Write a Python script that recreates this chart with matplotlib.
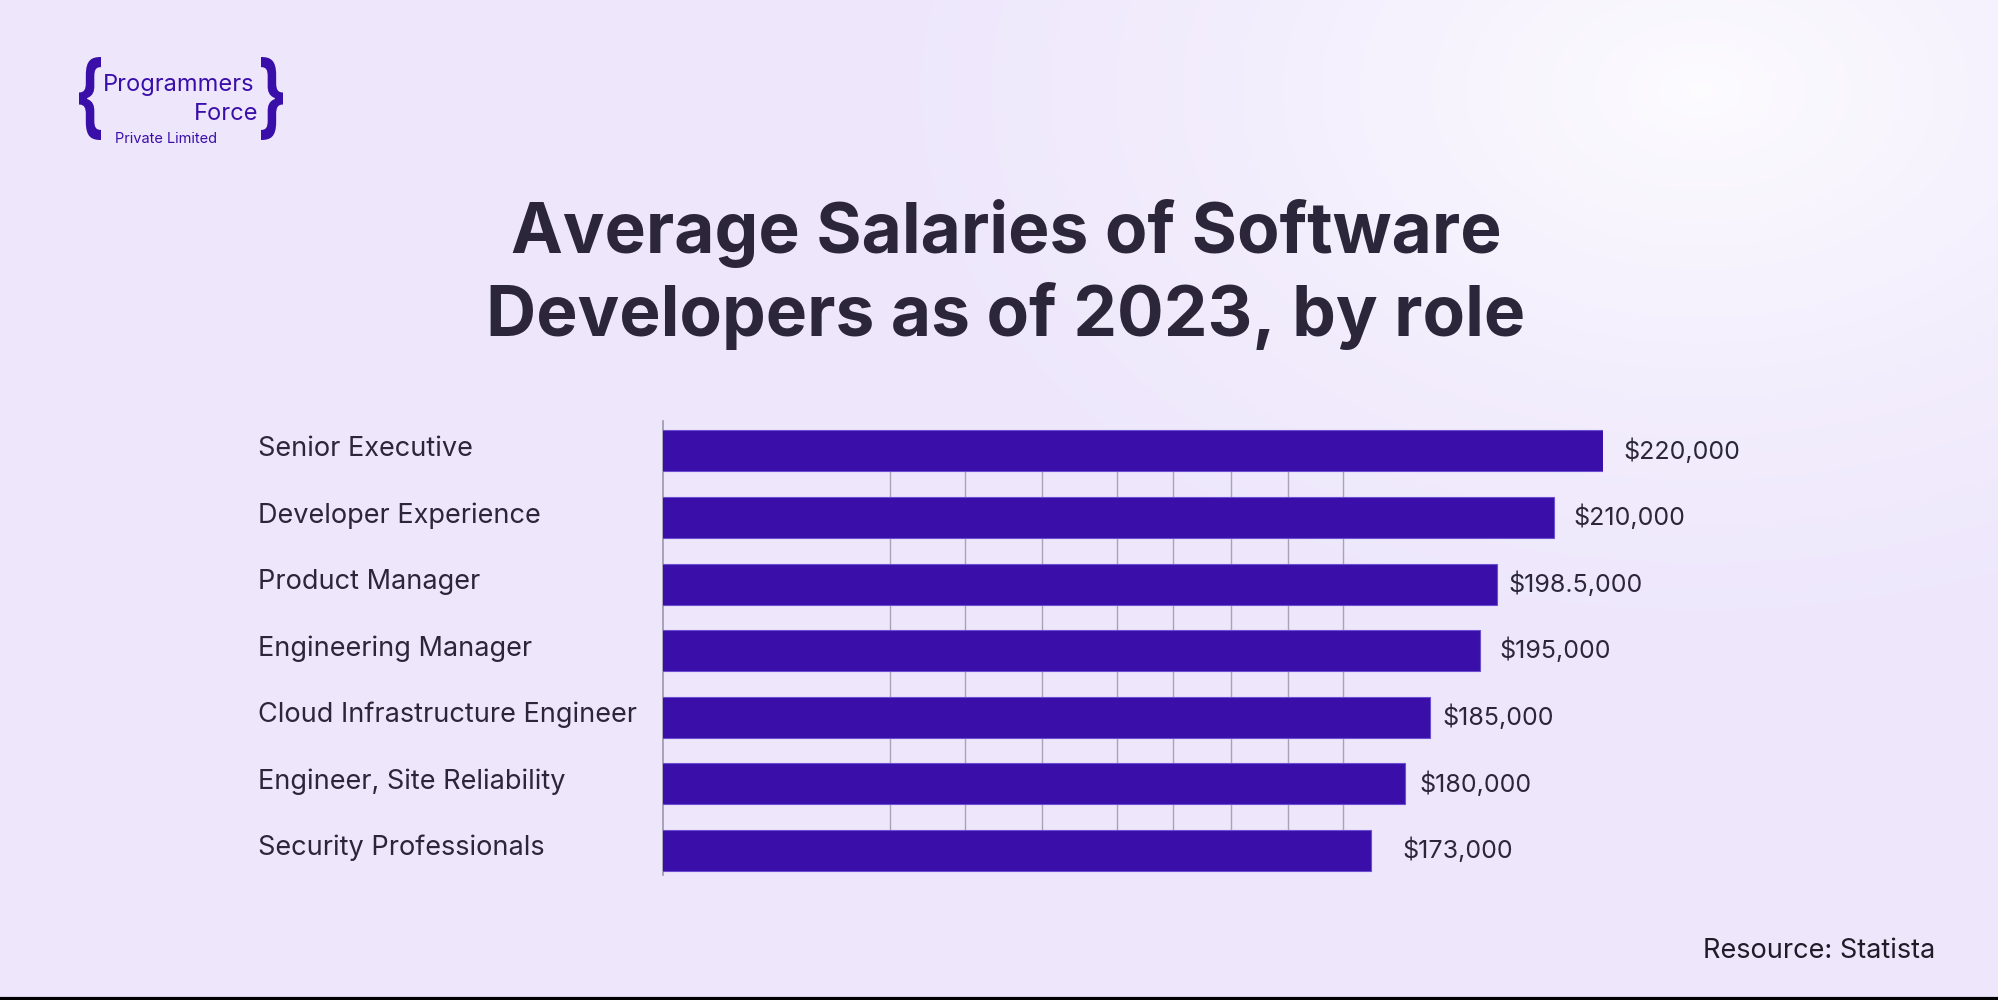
import matplotlib.pyplot as plt
import numpy as np
from matplotlib.textpath import TextPath
from matplotlib.patches import PathPatch
from matplotlib.font_manager import FontProperties
from matplotlib.transforms import Affine2D

roles = ["Senior Executive", "Developer Experience", "Product Manager",
         "Engineering Manager", "Cloud Infrastructure Engineer",
         "Engineer, Site Reliability", "Security Professionals"]
salaries = [220000, 210000, 198500, 195000, 185000, 180000, 173000]
value_labels = ["$220,000", "$210,000", "$198.5,000", "$195,000",
                "$185,000", "$180,000", "$173,000"]
grid_ticks = [75700, 90900, 106400, 121600, 133000, 144600, 156200, 167300]

font = "Inter"
dark = "#2b2639"
purple = "#3a0ea9"

fig = plt.figure(figsize=(19.99, 10), dpi=100)

# background with a soft glow in the upper right
bg = fig.add_axes([0, 0, 1, 1])
yy, xx = np.mgrid[0:1000, 0:1999]
d = np.sqrt(((xx - 1700) / 900.0) ** 2 + ((yy - 90) / 600.0) ** 2)
glow = np.clip(1 - d, 0, 1) ** 1.5
base = np.array([238, 231, 252]) / 255.0
img = base[None, None, :] + glow[:, :, None] * (1 - base[None, None, :]) * 0.85
bg.imshow(img, extent=[0, 1999, 1000, 0], aspect="auto")
bg.set_xlim(0, 1999)
bg.set_ylim(1000, 0)
bg.axis("off")
bg.axhline(999, color="black", lw=3)


def brace(ch, x0, x1, y0, y1):
    p = TextPath((0, 0), ch, size=100, prop=FontProperties(family=font, weight="bold"))
    ext = p.get_extents()
    sx = (x1 - x0) / ext.width
    sy = (y1 - y0) / ext.height
    tr = Affine2D().translate(-ext.x0, -ext.y1).scale(sx, -sy).translate(x0, y0)
    bg.add_patch(PathPatch(tr.transform_path(p), color=purple, lw=0))


# logo
brace("{", 79, 101, 57, 140)
brace("}", 261, 283, 57, 140)
bg.text(103, 85, "Programmers", fontsize=17, color=purple, family=font, ha="left", va="center")
bg.text(258, 114, "Force", fontsize=17, color=purple, family=font, ha="right", va="center")
bg.text(115, 139, "Private Limited", fontsize=10.5, color=purple, family=font, ha="left", va="center")

# title
bg.text(1006, 233, "Average Salaries of Software", fontsize=50, fontweight="bold",
        color=dark, family=font, ha="center", va="center")
bg.text(1006, 316, "Developers as of 2023, by role", fontsize=50, fontweight="bold",
        color=dark, family=font, ha="center", va="center")

bg.text(1935, 951, "Resource: Statista", fontsize=19.5, color="#1f1b27", family=font,
        ha="right", va="center")

# chart
ax = fig.add_axes([663 / 1999, 0.125, (1603 - 663) / 1999, 0.454])
ax.set_facecolor("none")
y = np.arange(len(roles))
ax.barh(y, salaries, height=0.615, left=0, color=purple, edgecolor="#6a4fd0",
        linewidth=0.8, zorder=3)
ax.vlines(grid_ticks, 0, len(roles) - 1, color="#a9a3b6", lw=1, zorder=1)
ax.set_xlim(29700, 220000)
ax.set_ylim(6.37, -0.45)
ax.set_xticks([])
ax.set_yticks([])
for s in ["top", "right", "bottom"]:
    ax.spines[s].set_visible(False)
ax.spines["left"].set_color("#9d97ab")
ax.spines["left"].set_linewidth(1.2)

pads = [20, 20, 12, 20, 12, 14, 32]
for i in range(len(roles)):
    ax.annotate(value_labels[i], (salaries[i], i), xytext=(pads[i] * 0.72, 0),
                textcoords="offset points", ha="left", va="center",
                fontsize=18, color=dark, family=font, annotation_clip=False)
    bg.text(258, 449 + i * 66.5, roles[i], fontsize=19.5, color=dark, family=font,
            ha="left", va="center")

fig.savefig("out.png", dpi=100)
